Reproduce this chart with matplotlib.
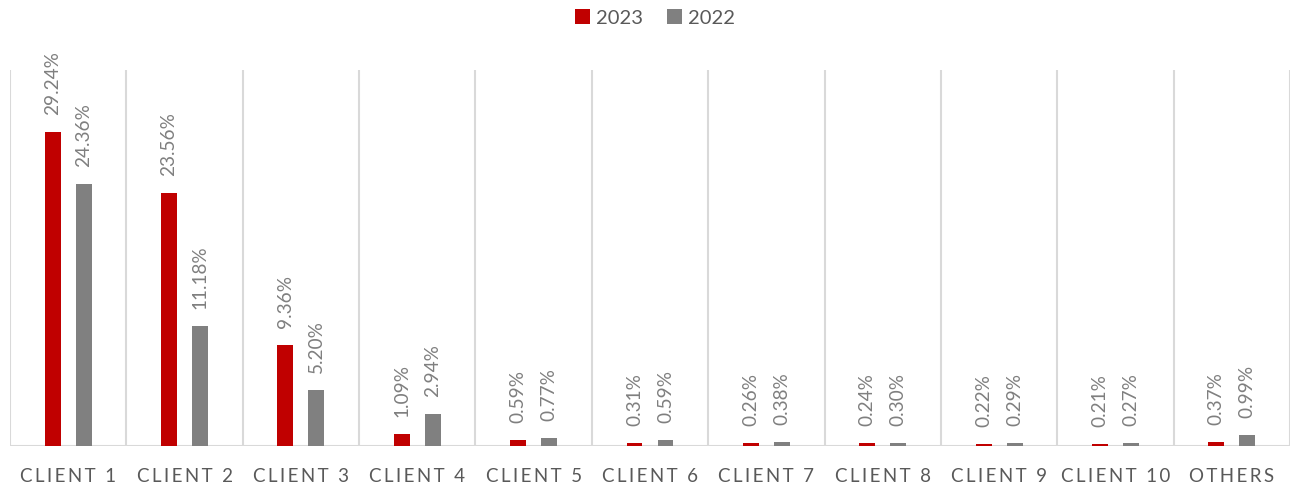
import matplotlib
matplotlib.use("Agg")
import matplotlib.pyplot as plt
import numpy as np

categories = ["CLIENT 1", "CLIENT 2", "CLIENT 3", "CLIENT 4", "CLIENT 5", "CLIENT 6",
              "CLIENT 7", "CLIENT 8", "CLIENT 9", "CLIENT 10", "OTHERS"]
values_2023 = [29.24, 23.56, 9.36, 1.09, 0.59, 0.31, 0.26, 0.24, 0.22, 0.21, 0.37]
values_2022 = [24.36, 11.18, 5.20, 2.94, 0.77, 0.59, 0.38, 0.30, 0.29, 0.27, 0.99]
series_names = ["2023", "2022"]

RED = "#C00000"
GRAY = "#808080"
TEXT = "#595959"
LABEL = "#7F7F7F"
GRID = "#D9D9D9"

plt.rcParams['font.family'] = ['Lato', 'DejaVu Sans']

fig = plt.figure(figsize=(12.96, 4.86), dpi=100)
ax = fig.add_axes([10/1296, 1-446/486, 1280/1296, 376/486])

x = np.arange(len(categories))
w = 0.137
off = 0.133
b1 = ax.bar(x - off, values_2023, w, color=RED, label=series_names[0], zorder=3)
b2 = ax.bar(x + off, values_2022, w, color=GRAY, label=series_names[1], zorder=3)

for bars, vals in ((b1, values_2023), (b2, values_2022)):
    for rect, v in zip(bars, vals):
        ax.annotate(f"{v:.2f}%", (rect.get_x() + rect.get_width()/2, rect.get_height()),
                    xytext=(0, 17), textcoords="offset pixels", rotation=90,
                    ha="center", va="bottom", fontsize=13.7, color=LABEL)

ax.set_xlim(-0.5, len(categories) - 0.5)
ax.set_ylim(0, 35)
for b in np.arange(-0.5, len(categories), 1.0):
    ax.axvline(b, color=GRID, lw=1.5, zorder=1)
for s in ax.spines.values():
    s.set_visible(False)
ax.axhline(0, color=GRID, lw=1.5, zorder=2)
ax.set_yticks([])
ax.set_xticks(x)
spaced = ["\u2009".join(list(c)).replace("\u2009 \u2009", "\u2009\u2009 ") for c in categories]
ax.set_xticklabels(spaced, fontsize=13.5, color=TEXT)
ax.tick_params(axis="x", length=0, pad=16)

leg = fig.legend(handles=[b1, b2], labels=series_names, loc="center", bbox_to_anchor=(655/1296, 1-18/486),
                 ncol=2, frameon=False, fontsize=14.5, handlelength=0.72, handleheight=0.72,
                 handletextpad=0.3, columnspacing=1.2)
for t in leg.get_texts():
    t.set_color(TEXT)

fig.savefig("out.png", dpi=100)
